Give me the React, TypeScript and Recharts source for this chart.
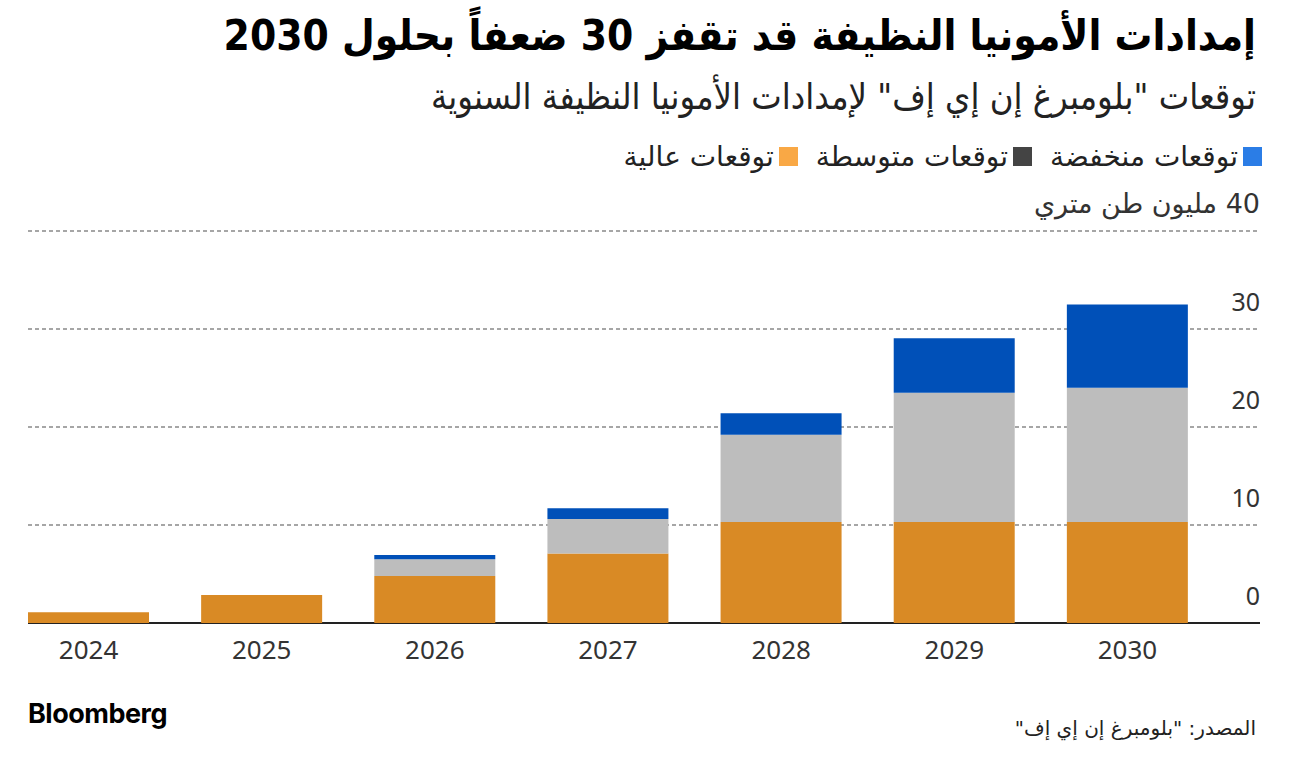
import { BarChart, Bar, XAxis, YAxis, CartesianGrid } from 'recharts'

// years on the x axis
const years = ['2024', '2025', '2026', '2027', '2028', '2029', '2030']
// stacked segments, million metric tons (bottom to top)
const orangePart = [1.1, 2.85, 4.8, 7.1, 10.3, 10.3, 10.3]
const grayPart = [0, 0, 1.7, 3.5, 8.9, 13.2, 13.7]
const bluePart = [0, 0, 0.45, 1.1, 2.2, 5.55, 8.5]
const yTicks = [0, 10, 20, 30, 40]

const legendItems = [
  { label: 'توقعات منخفضة', color: '#2b7de6' },
  { label: 'توقعات متوسطة', color: '#444444' },
  { label: 'توقعات عالية', color: '#f9a845' },
]

const data = years.map((year, i) => ({
  year,
  orange: orangePart[i],
  gray: grayPart[i],
  blue: bluePart[i],
}))

const ARABIC_FONT = '"DejaVu Sans", sans-serif'
const CONDENSED = '"DejaVu Sans Condensed", "DejaVu Sans", sans-serif'
const NUM_FONT = '"Noto Sans", "DejaVu Sans", sans-serif'

function YTick({ y, payload }: any) {
  const isTop = payload.value === 40
  const label = isTop ? '\u202B40 مليون طن متري\u202C' : String(payload.value)
  return (
    <text
      x={1260}
      y={y - 28}
      textAnchor="end"
      dominantBaseline="central"
      fontSize={isTop ? 27 : 25}
      fill="#333"
      fontFamily={isTop ? ARABIC_FONT : NUM_FONT}
    >
      {label}
    </text>
  )
}

function XTick({ x, y, payload }: any) {
  return (
    <text x={x} y={y + 18} textAnchor="middle" dominantBaseline="central" fontSize={26} fill="#333" fontFamily={NUM_FONT}>
      {payload.value}
    </text>
  )
}

export default function App() {
  return (
    <div style={{ position: 'absolute', left: 0, top: 0, width: 1296, height: 760, background: '#fff', fontFamily: ARABIC_FONT }}>
      <div dir="rtl" style={{ position: 'absolute', right: 40, top: 11, fontSize: 42, fontWeight: 'bold', color: '#000', whiteSpace: 'nowrap', fontFamily: CONDENSED }}>
        إمدادات الأمونيا النظيفة قد تقفز 30 ضعفاً بحلول 2030
      </div>
      <div dir="rtl" style={{ position: 'absolute', right: 40, top: 76, fontSize: 36, color: '#222', whiteSpace: 'nowrap', fontFamily: CONDENSED }}>
        توقعات "بلومبرغ إن إي إف" لإمدادات الأمونيا النظيفة السنوية
      </div>
      <div dir="rtl" style={{ position: 'absolute', right: 34, top: 140, display: 'flex', gap: 18, alignItems: 'center', fontSize: 28, color: '#222', whiteSpace: 'nowrap' }}>
        {legendItems.map((item) => (
          <div key={item.label} style={{ display: 'flex', alignItems: 'center', gap: 5 }}>
            <span style={{ width: 19, height: 19, background: item.color, display: 'inline-block' }} />
            <span>{item.label}</span>
          </div>
        ))}
      </div>

      <div style={{ position: 'absolute', left: 0, top: 0 }}>
        <BarChart width={1296} height={760} data={data} margin={{ top: 231, right: 81, bottom: 107, left: 2 }}>
          <CartesianGrid x={28} width={1230} vertical={false} stroke="#a6a6a6" strokeWidth={2} strokeDasharray="4 3" />
          <XAxis dataKey="year" height={30} axisLine={false} tickLine={false} tick={<XTick />} interval={0} />
          <YAxis orientation="right" width={1} domain={[0, 40]} ticks={yTicks} axisLine={false} tickLine={false} tick={<YTick />} />
          <Bar dataKey="orange" stackId="a" fill="#d98a25" barSize={121} isAnimationActive={false} />
          <Bar dataKey="gray" stackId="a" fill="#bdbdbd" barSize={121} isAnimationActive={false} />
          <Bar dataKey="blue" stackId="a" fill="#0050b8" barSize={121} isAnimationActive={false} />
          <CartesianGrid x={28} width={1232} vertical={false} horizontalValues={[0]} stroke="#222" strokeWidth={2} />
        </BarChart>
      </div>

      <div style={{ position: 'absolute', left: 28, top: 697, fontSize: 27, fontWeight: 'bold', color: '#000', fontFamily: 'Inter, sans-serif', letterSpacing: -0.5 }}>
        Bloomberg
      </div>
      <div dir="rtl" style={{ position: 'absolute', right: 40, top: 716, fontSize: 20, color: '#222', whiteSpace: 'nowrap' }}>
        المصدر: "بلومبرغ إن إي إف"
      </div>
    </div>
  )
}
